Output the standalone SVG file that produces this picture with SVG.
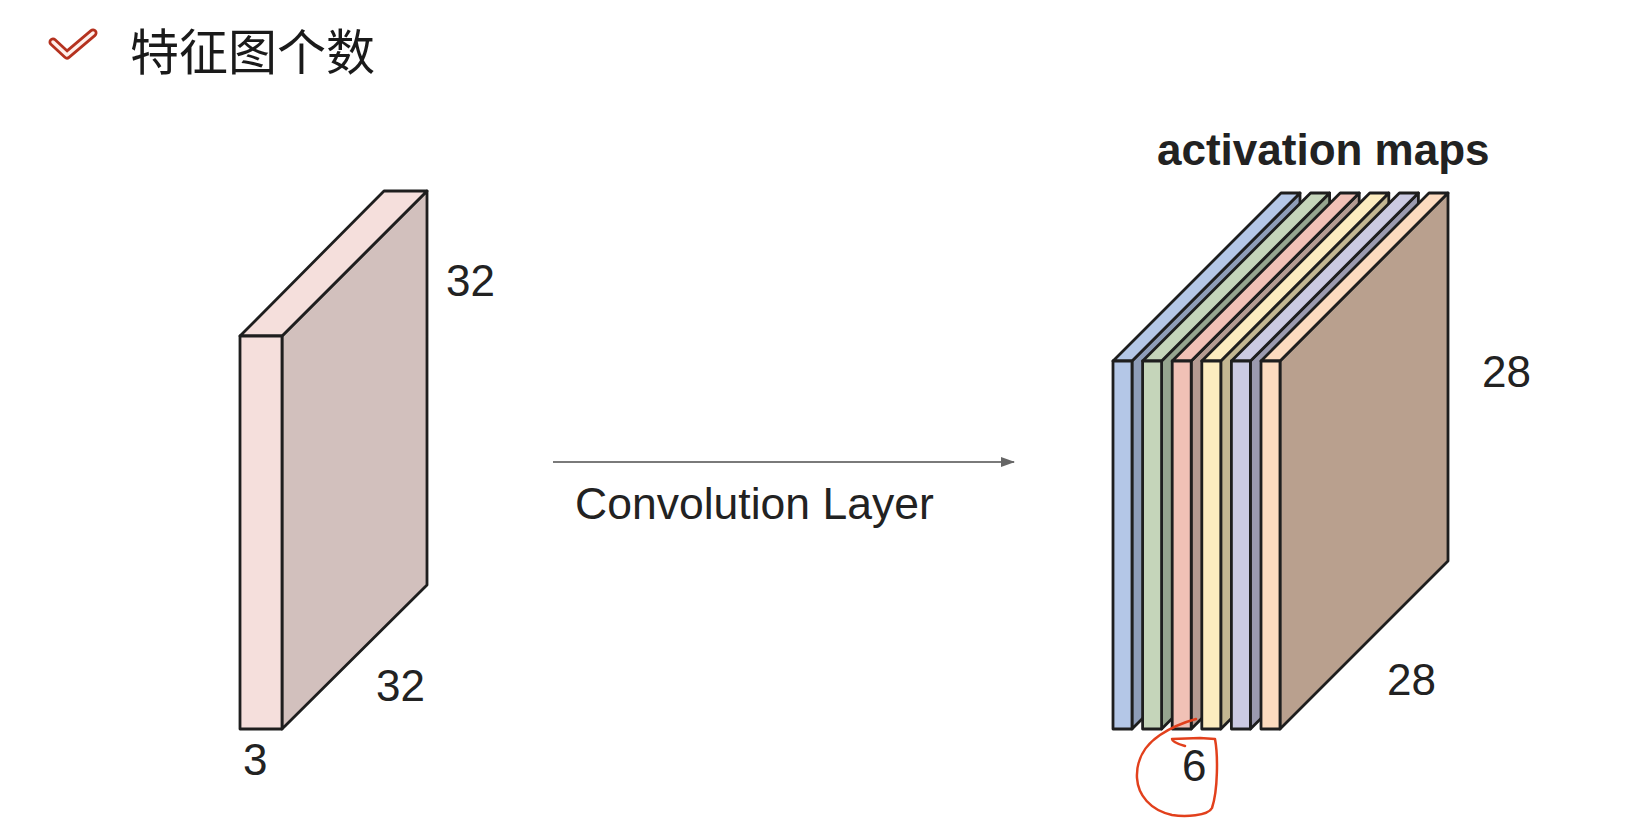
<svg xmlns="http://www.w3.org/2000/svg" width="1645" height="826" viewBox="0 0 1645 826">
<style>
.ln{stroke:#1e1e1e;stroke-width:2.8;stroke-linejoin:round}
.t{font-family:"Liberation Sans",Arial,sans-serif;font-size:44px;fill:#222}
.b{font-weight:bold}
.cjk{font-family:"Noto Sans CJK SC","Noto Sans CJK JP",sans-serif;font-size:49px;fill:#1a1a1a}
</style>
<defs>
<marker id="ah" viewBox="0 0 14 10" refX="13" refY="5" markerWidth="14" markerHeight="10" markerUnits="userSpaceOnUse" orient="auto">
<path d="M0,0 L14,5 L0,10 z" fill="#666"/>
</marker>
</defs>
<rect width="1645" height="826" fill="#ffffff"/>

<g id="title">
<path d="M53,42 L67,55 L93,33" fill="none" stroke="#b5321f" stroke-width="9" stroke-linecap="round" stroke-linejoin="round"/>
<path d="M53,42 L67,55 L93,33" fill="none" stroke="#fff0ec" stroke-width="3.5" stroke-linecap="round" stroke-linejoin="round"/>
<text class="cjk" x="130" y="70">特征图个数</text>
</g>

<g id="input-volume">
<polygon class="ln" points="282,336 427,191 427,585 282,729" fill="#d2c0bd"/>
<polygon class="ln" points="240,336 282,336 427,191 384,191" fill="#f5dfdc"/>
<rect class="ln" x="240" y="336" width="42" height="393" fill="#f5dfdc"/>
<text class="t" x="446" y="296">32</text>
<text class="t" x="376" y="701">32</text>
<text class="t" x="243" y="775">3</text>
</g>

<g id="connectors">
<line x1="553" y1="462" x2="1014" y2="462" stroke="#7a7a7a" stroke-width="2" marker-end="url(#ah)"/>
<text class="t" x="575" y="519" style="font-size:44.5px">Convolution Layer</text>
</g>

<g id="activation-maps">
<text class="t b" x="1157" y="165">activation maps</text>
<g id="map1">
<polygon class="ln" points="1132,361 1300,193 1300,561 1132,729" fill="#8e9db9"/>
<polygon class="ln" points="1113,361 1132,361 1300,193 1281,193" fill="#b4c7e7"/>
<rect class="ln" x="1113" y="361" width="19" height="368" fill="#b4c7e7"/>
</g>
<g id="map2">
<polygon class="ln" points="1161.6,361 1329.6,193 1329.6,561 1161.6,729" fill="#96a58f"/>
<polygon class="ln" points="1142.6,361 1161.6,361 1329.6,193 1310.6,193" fill="#c5d5ba"/>
<rect class="ln" x="1142.6" y="361" width="19" height="368" fill="#c5d5ba"/>
</g>
<g id="map3">
<polygon class="ln" points="1191.2,361 1359.2,193 1359.2,561 1191.2,729" fill="#b49b92"/>
<polygon class="ln" points="1172.2,361 1191.2,361 1359.2,193 1340.2,193" fill="#f1c1b6"/>
<rect class="ln" x="1172.2" y="361" width="19" height="368" fill="#f1c1b6"/>
</g>
<g id="map4">
<polygon class="ln" points="1220.8,361 1388.8,193 1388.8,561 1220.8,729" fill="#c3b792"/>
<polygon class="ln" points="1201.8,361 1220.8,361 1388.8,193 1369.8,193" fill="#fcecbf"/>
<rect class="ln" x="1201.8" y="361" width="19" height="368" fill="#fcecbf"/>
</g>
<g id="map5">
<polygon class="ln" points="1250.4,361 1418.4,193 1418.4,561 1250.4,729" fill="#9b9aaf"/>
<polygon class="ln" points="1231.4,361 1250.4,361 1418.4,193 1399.4,193" fill="#cbcae2"/>
<rect class="ln" x="1231.4" y="361" width="19" height="368" fill="#cbcae2"/>
</g>
<g id="map6">
<polygon class="ln" points="1280,361 1448,193 1448,561 1280,729" fill="#b9a08e"/>
<polygon class="ln" points="1261,361 1280,361 1448,193 1429,193" fill="#fcdbbf"/>
<rect class="ln" x="1261" y="361" width="19" height="368" fill="#fcdbbf"/>
</g>
<text class="t" x="1482" y="387">28</text>
<text class="t" x="1387" y="695">28</text>
<text class="t" x="1182" y="781">6</text>
<path d="M1185,746 C1178,744 1172,742 1172,739 L1200,738 L1215,739 C1218,755 1218,790 1212,808 C1208,816 1185,817 1172,815 C1150,810 1138,795 1137,778 C1136,760 1145,745 1160,735 C1172,727 1185,722 1196,719" fill="none" stroke="#e2401c" stroke-width="2.5" stroke-linecap="round" stroke-linejoin="round"/>
</g>
</svg>
